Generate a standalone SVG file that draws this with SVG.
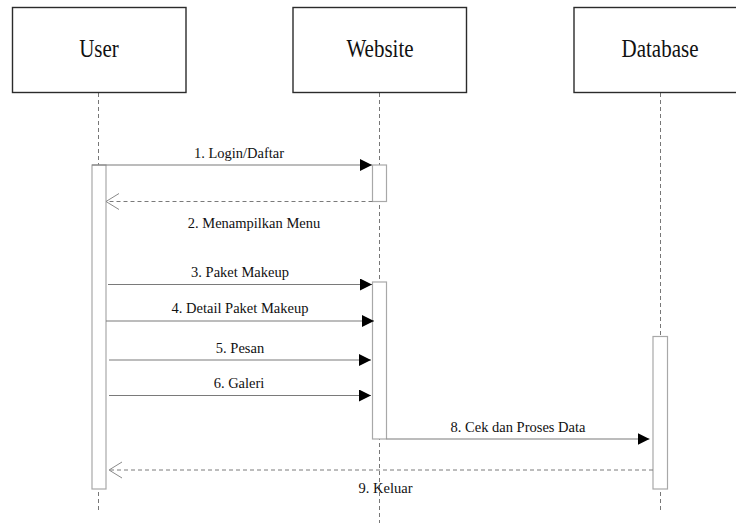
<svg xmlns="http://www.w3.org/2000/svg" width="736" height="523" viewBox="0 0 736 523">
  <style>
    .box { fill: #ffffff; stroke: #2b2b2b; stroke-width: 1.4; }
    .life { stroke: #777777; stroke-width: 1; stroke-dasharray: 4 3; fill: none; }
    .act { fill: #ffffff; stroke: #a8a8a8; stroke-width: 1.2; }
    .msg { stroke: #7a7a7a; stroke-width: 1.2; fill: none; }
    .ret { stroke: #7a7a7a; stroke-width: 1; stroke-dasharray: 4 3; fill: none; }
    .title { font-family: "Liberation Serif", "Times New Roman", serif; font-size: 21px; fill: #111111; text-anchor: middle; }
    .label { font-family: "Liberation Serif", "Times New Roman", serif; font-size: 14.5px; fill: #111111; text-anchor: middle; }
  </style>
  <defs>
    <marker id="solid" viewBox="0 0 12 12" refX="12" refY="6" markerWidth="12" markerHeight="12" markerUnits="userSpaceOnUse" orient="auto">
      <path d="M0,0 L12,6 L0,12 Z" fill="#000000"/>
    </marker>
    <marker id="open" viewBox="0 0 16 18" refX="14" refY="9" markerWidth="16" markerHeight="18" markerUnits="userSpaceOnUse" orient="auto">
      <path d="M1,1 L14,9 L1,17" fill="none" stroke="#8a8a8a" stroke-width="1"/>
    </marker>
  </defs>

  <rect width="736" height="523" fill="#ffffff"/>

  <!-- lifelines -->
  <g id="lifelines">
    <line class="life" x1="98.5" y1="93" x2="98.5" y2="513"/>
    <line class="life" x1="379.5" y1="93" x2="379.5" y2="523"/>
    <line class="life" x1="660.5" y1="93" x2="660.5" y2="513"/>
  </g>

  <!-- participants, each with its activation bars -->
  <g id="user">
    <rect class="box" x="12.5" y="7.5" width="173.5" height="85"/>
    <text class="title" transform="translate(99,57) scale(1,1.2)">User</text>
    <rect class="act" x="92" y="165" width="14" height="324"/>
  </g>
  <g id="website">
    <rect class="box" x="293" y="7.5" width="173.5" height="85"/>
    <text class="title" transform="translate(380,57) scale(1,1.2)">Website</text>
    <rect class="act" x="372.5" y="165" width="14" height="36.5"/>
    <rect class="act" x="372.5" y="282" width="14" height="157"/>
  </g>
  <g id="database">
    <rect class="box" x="574" y="7.5" width="174" height="85"/>
    <text class="title" transform="translate(660,57) scale(1,1.2)">Database</text>
    <rect class="act" x="653" y="336.5" width="14.5" height="152.5"/>
  </g>

  <!-- messages -->
  <g id="connectors">
    <line class="msg" x1="92" y1="165" x2="372" y2="165" marker-end="url(#solid)"/>
    <line class="ret" x1="372.5" y1="201.5" x2="106" y2="201.5" marker-end="url(#open)"/>
    <line class="msg" x1="108" y1="284.5" x2="372" y2="284.5" marker-end="url(#solid)"/>
    <line class="msg" x1="106" y1="321" x2="374" y2="321" marker-end="url(#solid)"/>
    <line class="msg" x1="109" y1="360" x2="371" y2="360" marker-end="url(#solid)"/>
    <line class="msg" x1="109" y1="395.5" x2="371" y2="395.5" marker-end="url(#solid)"/>
    <line class="msg" x1="386.5" y1="439" x2="649.5" y2="439" marker-end="url(#solid)"/>
    <line class="ret" x1="653" y1="470" x2="109" y2="470" marker-end="url(#open)"/>
  </g>

  <!-- message labels -->
  <g id="labels">
    <text class="label" x="239" y="158">1. Login/Daftar</text>
    <text class="label" x="254" y="228">2. Menampilkan Menu</text>
    <text class="label" x="240" y="276.5">3. Paket Makeup</text>
    <text class="label" x="240" y="313">4. Detail Paket Makeup</text>
    <text class="label" x="240" y="353">5. Pesan</text>
    <text class="label" x="239" y="388">6. Galeri</text>
    <text class="label" x="518" y="431.5">8. Cek dan Proses Data</text>
    <text class="label" x="385.5" y="493">9. Keluar</text>
  </g>
</svg>
